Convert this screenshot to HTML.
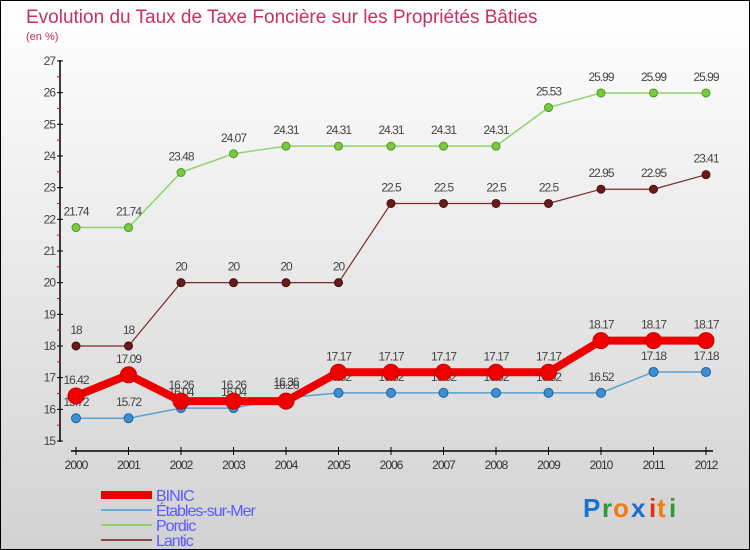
<!DOCTYPE html>
<html><head><meta charset="utf-8"><style>
body{margin:0}
#wrap{position:relative;width:748px;height:548px;border:1px solid #000;background:linear-gradient(#fff,#d2d2d2);overflow:hidden;font-family:"Liberation Sans",sans-serif}
</style></head><body>
<div id="wrap">
<svg id="svg" width="748" height="548" xmlns="http://www.w3.org/2000/svg">
<text x="25" y="22" font-size="19" fill="#c8305f">Evolution du Taux de Taxe Foncière sur les Propriétés Bâties</text>
<text x="25" y="39" font-size="11" fill="#c8305f">(en %)</text>
<g id="axes"></g><g id="series"></g><g id="legend"></g>
<g font-size="26" font-weight="bold" font-family="Liberation Sans,sans-serif">
<text x="582" y="516" fill="#1a6fd0">P</text><text x="601" y="516" fill="#2a9a3a">r</text><text x="612" y="516" fill="#f07d10">o</text><text x="630" y="516" fill="#1a6fd0">x</text><text x="648" y="516" fill="#e03010">i</text><text x="656" y="516" fill="#f07d10">t</text><text x="668" y="516" fill="#2a9a3a">i</text>
</g>
</svg></div>
<script>
const years=[2000,2001,2002,2003,2004,2005,2006,2007,2008,2009,2010,2011,2012];
const yTicks=[15,16,17,18,19,20,21,22,23,24,25,26,27];
const binic=[16.42,17.09,16.26,16.26,16.26,17.17,17.17,17.17,17.17,17.17,18.17,18.17,18.17];
const etables=[15.72,15.72,16.04,16.04,16.36,16.52,16.52,16.52,16.52,16.52,16.52,17.18,17.18];
const pordic=[21.74,21.74,23.48,24.07,24.31,24.31,24.31,24.31,24.31,25.53,25.99,25.99,25.99];
const lantic=[18,18,20,20,20,20,22.5,22.5,22.5,22.5,22.95,22.95,23.41];
const NS="http://www.w3.org/2000/svg";
const X=i=>75+i*52.5, Y=v=>440-(v-15)*31.67;
function mk(p,t,a){const e=document.createElementNS(NS,t);for(const k in a)e.setAttribute(k,a[k]);p.appendChild(e);return e;}
const ax=document.getElementById('axes');
const yl=mk(ax,'line',{x1:59,y1:59,x2:59,y2:441,stroke:'#000','stroke-width':1.5});


yTicks.forEach(v=>{
 mk(ax,'line',{x1:56,x2:62,y1:Y(v),y2:Y(v),stroke:'#000'});
 if(v<27)mk(ax,'line',{x1:56,x2:59,y1:Y(v+0.5),y2:Y(v+0.5),stroke:'#e00'});
 const t=mk(ax,'text',{x:54,y:Y(v)+4,'text-anchor':'end','font-size':12,fill:'#444','letter-spacing':'-1'});
 t.textContent=v;
 
 
});
const xl=mk(ax,'line',{x1:70,y1:450,x2:712,y2:450,stroke:'#000','stroke-width':1.5});


years.forEach((y,i)=>{
 mk(ax,'line',{x1:X(i),x2:X(i),y1:446,y2:454,stroke:'#000'});
 const t=mk(ax,'text',{x:X(i),y:468,'text-anchor':'middle','font-size':12,fill:'#333','letter-spacing':'-1'});
 t.textContent=y;
 
 
});
const sg=document.getElementById('series');
function series(name,data,color,w,r,fill,stroke){
 const g=mk(sg,'g',{});
 
 
 mk(g,'polyline',{points:data.map((v,i)=>X(i)+','+Y(v)).join(' '),fill:'none',stroke:color,'stroke-width':w});
 data.forEach((v,i)=>{
  const c=mk(g,'circle',{cx:X(i),cy:Y(v),r:r,fill:fill,stroke:stroke,'stroke-width':1});
  
  
  const t=mk(g,'text',{x:X(i),y:Y(v)-12,'text-anchor':'middle','font-size':12,fill:'#444','letter-spacing':'-1'});
  t.textContent=v;
  
  
 });
}
series('pordic',pordic,'#8fd46a',1.5,4,'#7cc840','#4a9a20');
series('lantic',lantic,'#7a2a2a',1.2,4,'#6a1a1a','#401010');
series('etables',etables,'#5aa0d0',1.5,4.5,'#3a90d0','#1a60a0');
series('binic',binic,'#ee0000',8,8,'#ee0000','#cc0000');
const lg=document.getElementById('legend');
[['BINIC','#ee0000',8],['Étables-sur-Mer','#6aaad8',2],['Pordic','#8fd46a',2],['Lantic','#8a4a4a',2]].forEach((d,i)=>{
 const y=494+i*15;
 const g=mk(lg,'g',{});
 
 
 mk(g,'line',{x1:100,x2:151,y1:y,y2:y,stroke:d[1],'stroke-width':d[2]});
 const t=mk(g,'text',{x:155,y:y+6,'font-size':16,fill:'#5a5aff','letter-spacing':'-1'});
 t.textContent=d[0];
});
</script>
</body></html>
